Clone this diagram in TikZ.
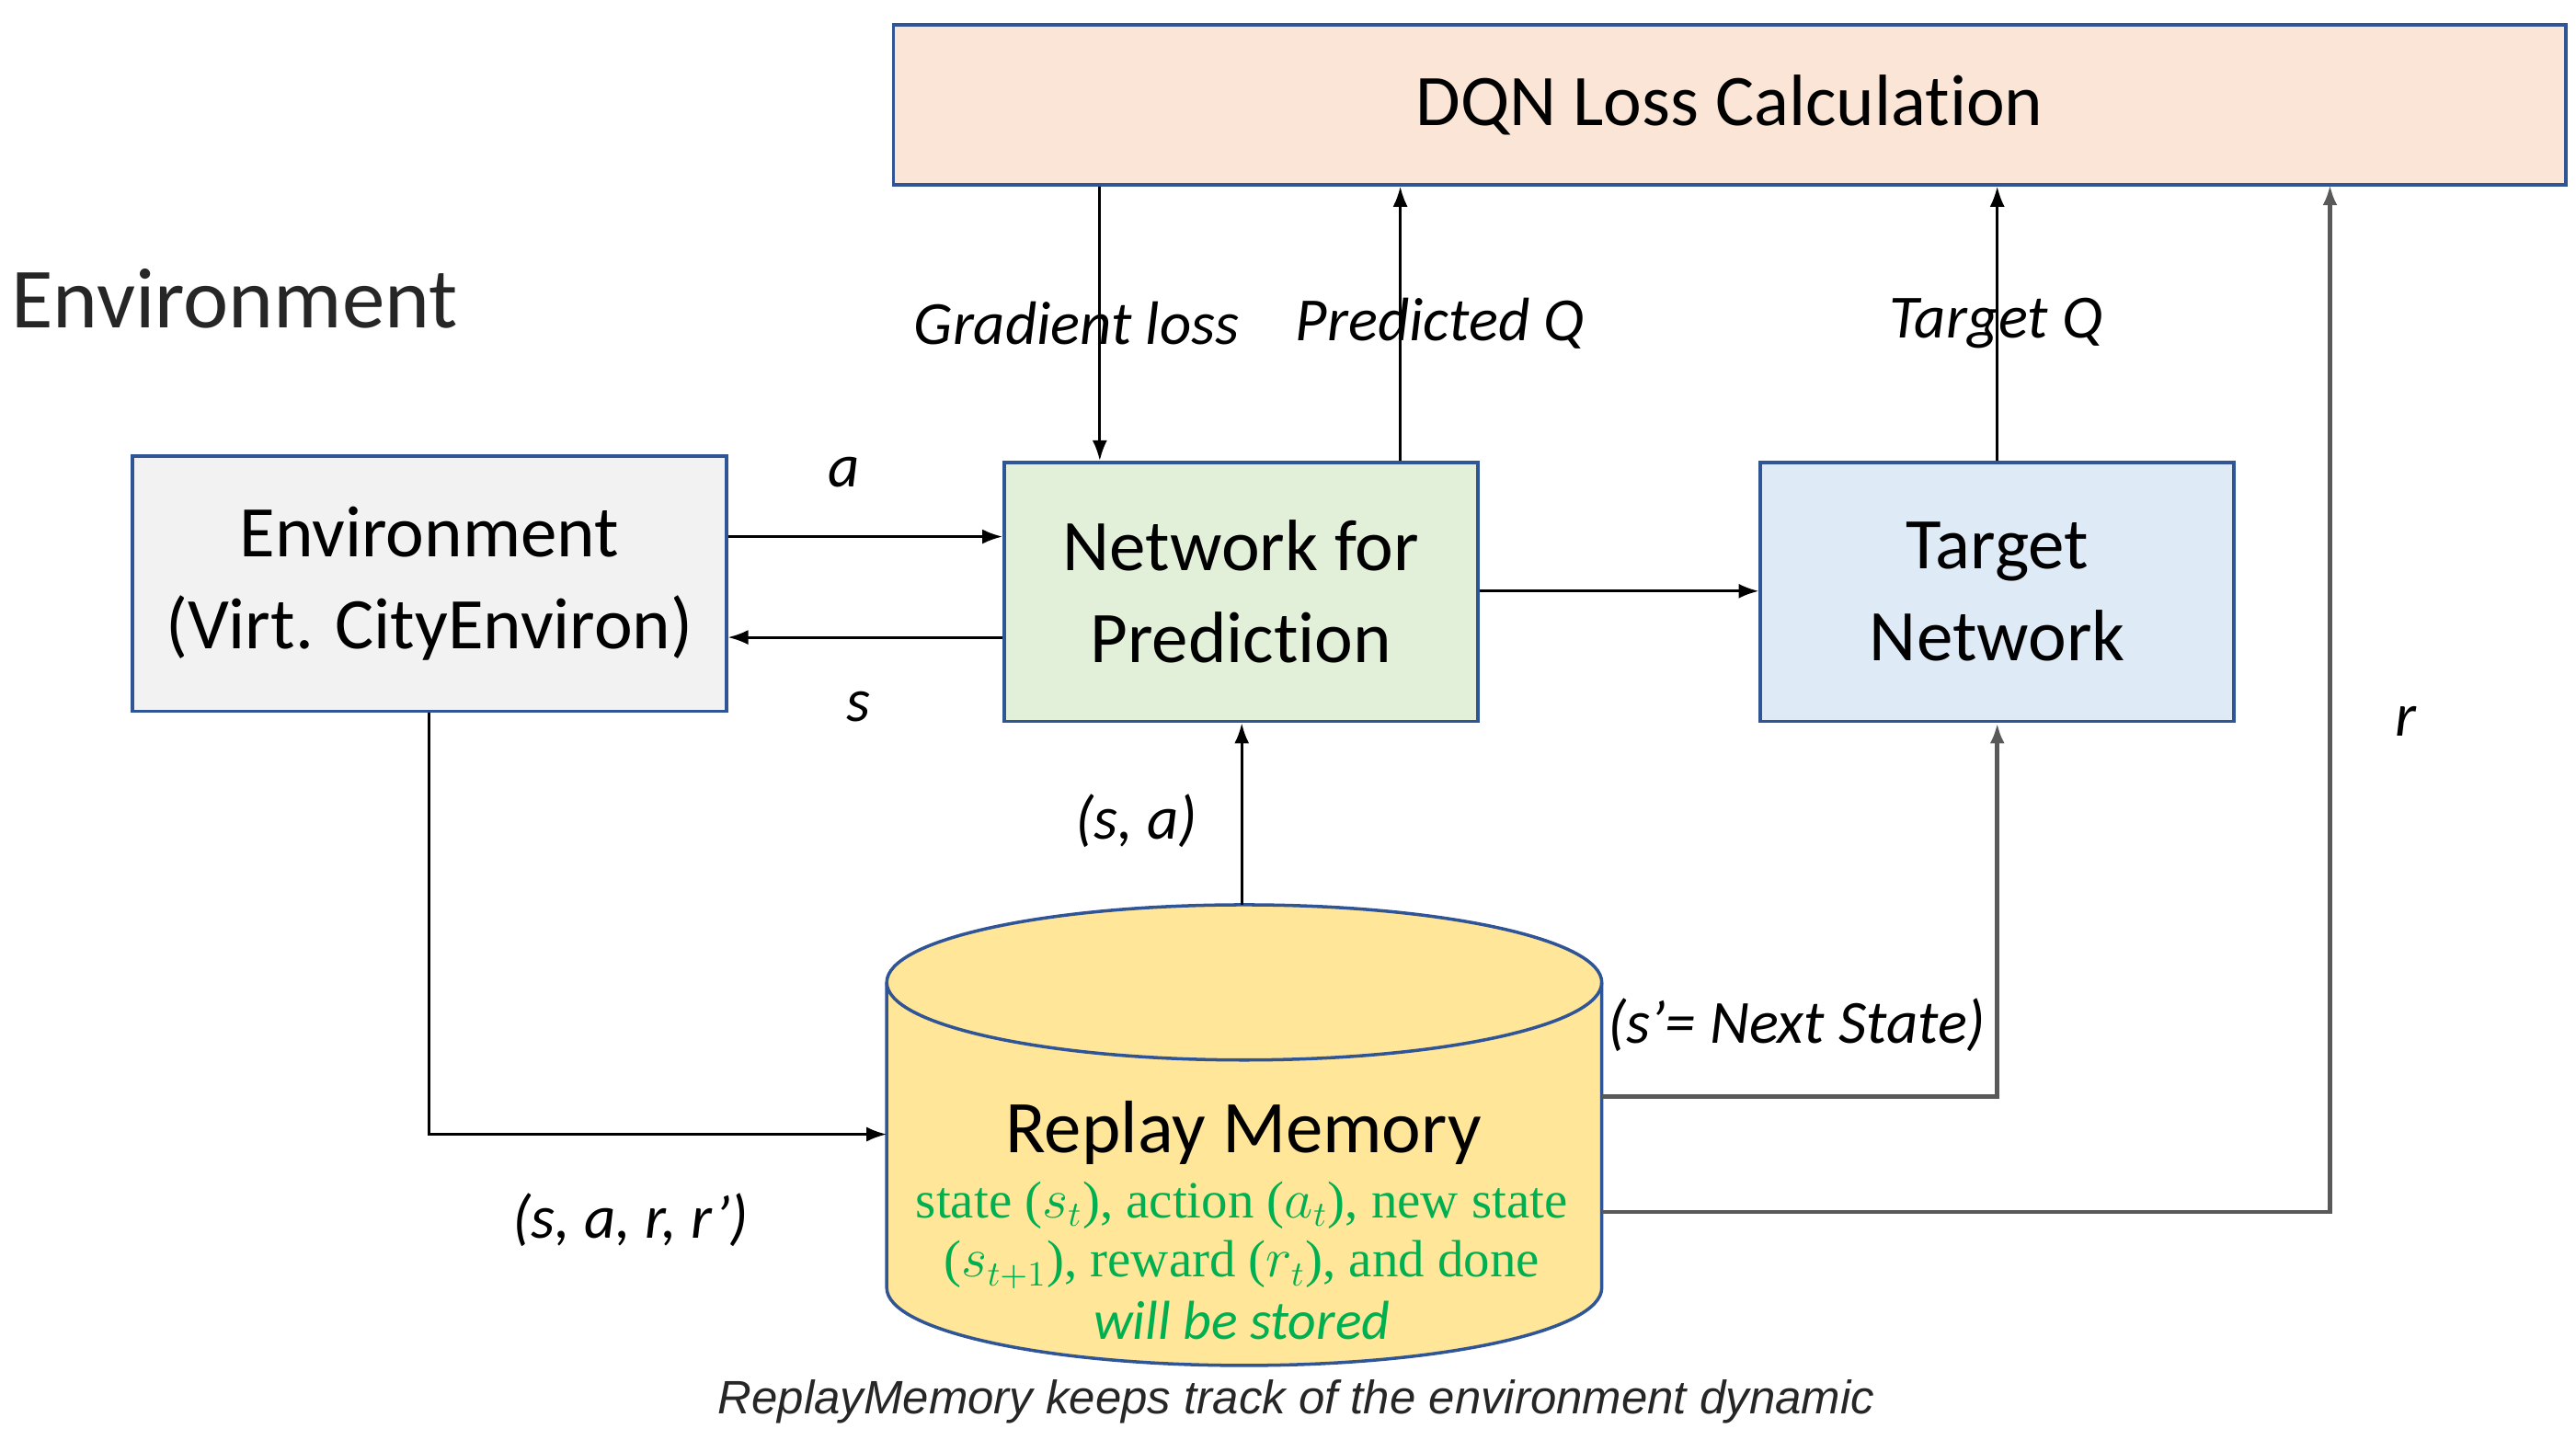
\documentclass[tikz,border=0pt]{standalone}
\usepackage{fontspec}
\setmainfont{Carlito}[Ligatures=NoCommon]
\newfontfamily\capfont{Liberation Sans}
\newfontfamily\greenfont{Liberation Serif}
\usetikzlibrary{arrows.meta}

\definecolor{boxblue}{HTML}{2F5597}
\definecolor{lossfill}{HTML}{FBE5D6}
\definecolor{envfill}{HTML}{F2F2F2}
\definecolor{predfill}{HTML}{E2F0D9}
\definecolor{targetfill}{HTML}{DEEBF7}
\definecolor{memfill}{HTML}{FFE699}
\definecolor{storegreen}{HTML}{00B050}
\definecolor{linegray}{HTML}{595959}
\definecolor{captext}{HTML}{262626}

\begin{document}
\begin{tikzpicture}[x=0.017955cm, y=0.017955cm,
  box/.style={draw=boxblue, line width=1pt, align=center, inner sep=0pt,
    font=\fontsize{22.5}{28.5}\selectfont},
  arr/.style={-{Latex[length=2.2mm,width=1.6mm]}, line width=0.8pt},
  feed/.style={-{Latex[length=2.2mm,width=1.6mm]}, line width=1.3pt, draw=linegray},
  lbl/.style={font=\fontsize{19}{22}\selectfont\itshape}]

\useasboundingbox (0,0) rectangle (1560,-872);

\node[font=\fontsize{26.5}{30}\selectfont, text=captext, anchor=west] (title) at (0,-181) {Environment};

% boxes
\node[box, fill=lossfill, minimum width=18.19cm, minimum height=1.74cm] (loss) at (1047.5,-63.5) {DQN Loss Calculation};
\node[box, fill=envfill, minimum width=6.46cm, minimum height=2.78cm] (env) at (260,-353.5) {Environment\\(Virt. CityEnviron)};
\node[box, fill=predfill, minimum width=5.15cm, minimum height=2.82cm] (pred) at (751.5,-358.5) {Network for\\Prediction};
\node[box, fill=targetfill, minimum width=5.15cm, minimum height=2.82cm] (target) at (1209.5,-358.5) {Target\\Network};

% replay memory cylinder
\draw[fill=memfill, draw=boxblue, line width=1pt] (537,-595) -- (537,-780)
  arc[start angle=180, end angle=360, x radius=216.5, y radius=47] -- (970,-595)
  arc[start angle=0, end angle=180, x radius=216.5, y radius=47] -- cycle;
\draw[boxblue, line width=1pt] (537,-595) arc[start angle=180, end angle=360, x radius=216.5, y radius=47];
\node[font=\fontsize{23}{28}\selectfont] (mem) at (753,-686) {Replay Memory};
\node[font=\greenfont\fontsize{16.2}{20}\selectfont, text=storegreen] (store1) at (752,-730) {state ($s_t$), action ($a_t$), new state};
\node[font=\greenfont\fontsize{16.2}{20}\selectfont, text=storegreen] (store2) at (752,-766) {($s_{t+1}$), reward ($r_t$), and done};
\node[font=\fontsize{17}{20}\selectfont\itshape, text=storegreen] (store3) at (752,-800) {will be stored};

\coordinate (memtop) at (752,-548);
\coordinate (memin) at (537,-687);
\coordinate (memnext) at (970,-664);
\coordinate (memr) at (970,-734);
\coordinate (ya) at (0,-325);
\coordinate (ys) at (0,-386);
\coordinate (yt) at (0,-358);
\coordinate (xg) at (666,0);
\coordinate (xp) at (848,0);
\coordinate (rtop) at (1411,-112);

% connectors
\draw[arr] (env.east |- ya) -- (pred.west |- ya);
\draw[arr] (pred.west |- ys) -- (env.east |- ys);
\draw[arr] (loss.south -| xg) -- (pred.north -| xg);
\draw[arr] (pred.north -| xp) -- (loss.south -| xp);
\draw[arr] (pred.east |- yt) -- (target.west |- yt);
\draw[arr] (target.north) -- (target.north |- loss.south);
\draw[arr] (memtop) -- (memtop |- pred.south);
\draw[arr] (env.south) |- (memin);
\draw[feed] (memnext) -| (target.south);
\draw[feed] (memr) -| (rtop);

% labels
\node[lbl] (la) at (511,-286) {a};
\node[lbl] (ls) at (520,-428) {s};
\node[lbl] (lgrad) at (652,-196) {Gradient loss};
\node[lbl] (lpred) at (872,-196) {Predicted Q};
\node[lbl] (ltarget) at (1209,-196) {Target Q};
\node[lbl] (lsa) at (688,-497) {(s, a)};
\node[lbl] (lsarr) at (382,-739) {(s, a, r, r’)};
\node[lbl] (lnext) at (1088,-621) {(s’= Next State)};
\node[lbl] (lr) at (1457,-437) {r};

\node[font=\capfont\itshape\fontsize{14.5}{17}\selectfont, text=captext] (caption) at (785,-849) {ReplayMemory keeps track of the environment dynamic};
\end{tikzpicture}
\end{document}
